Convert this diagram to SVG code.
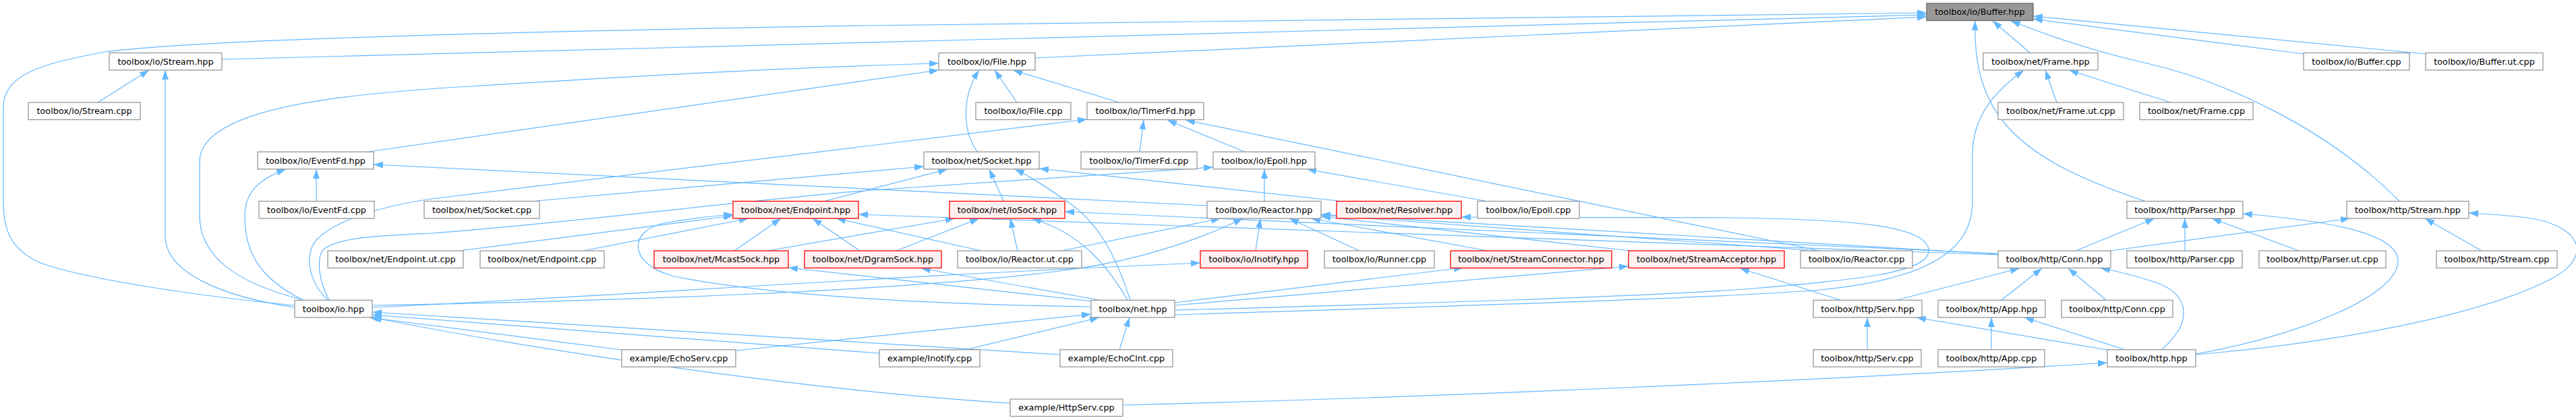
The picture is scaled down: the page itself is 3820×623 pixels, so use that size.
<svg xmlns="http://www.w3.org/2000/svg" width="3820" height="623" viewBox="0 0 3820 623">
<defs>
<marker id="a" markerWidth="14" markerHeight="10" refX="14" refY="5" orient="auto" markerUnits="userSpaceOnUse"><path d="M0,0L14,5L0,10z" fill="#63b8ff"/></marker>
</defs>
<style>
.n rect{fill:#fff;stroke:#999;stroke-width:1.3}
.r rect{fill:#fff0f0;stroke:#f00;stroke-width:1.3}
.g rect{fill:#999;stroke:#666;stroke-width:1.3}
text{font-family:"DejaVu Sans",sans-serif;font-size:12.8px;text-anchor:middle;fill:#000}
#edges path{fill:none;stroke:#63b8ff;stroke-width:1.2;marker-end:url(#a)}
</style>
<rect width="3820" height="623" fill="#fff"/>
<g id="edges">
<path d="M329,88 L2857,22"/>
<path d="M1535,86 L2857,25"/>
<path d="M437,453 C300,440 130,415 60,390 C15,370 5,340 5,300 L5,160 C5,110 60,95 155,77 C300,58 800,46 1280,38 L2857,19"/>
<path d="M3011,79 L2955,31"/>
<path d="M3416,80 L3015,28"/>
<path d="M3597,80 L3015,24"/>
<path d="M3180,298 C2990,235 2925,170 2929,31"/>
<path d="M3558,298 C3450,190 3300,120 3180,93 C3100,75 3030,50 2982,31"/>
<path d="M145,152 L221,104"/>
<path d="M437,456 C330,440 245,405 245,350 L245,104"/>
<path d="M450,445 C350,420 296,380 296,320 L296,240 C296,165 480,140 700,128 C950,112 1200,99 1392,94"/>
<path d="M547,225 L1392,104"/>
<path d="M1449,225 C1425,190 1428,140 1452,104"/>
<path d="M1508,152 L1475,104"/>
<path d="M1660,152 L1502,104"/>
<path d="M3050,152 L3033,104"/>
<path d="M3219,152 L3068,104"/>
<path d="M1742,467 C2100,455 2500,445 2700,430 C2880,412 2925,360 2925,300 L2925,230 C2925,170 2960,135 3001,104"/>
<path d="M486,445 C455,415 452,375 470,355 C500,325 570,305 640,295 L1612,177"/>
<path d="M1690,225 L1696,178"/>
<path d="M1845,225 L1731,178"/>
<path d="M2699,372 L1758,178"/>
<path d="M469,298 L469,251"/>
<path d="M449,445 C380,410 363,370 363,320 C363,285 385,265 424,251"/>
<path d="M1790,305 L554,244"/>
<path d="M795,298 L1370,247"/>
<path d="M1224,298 L1405,251"/>
<path d="M1488,298 L1467,251"/>
<path d="M1676,445 C1655,380 1630,330 1580,297 C1555,280 1530,263 1505,251"/>
<path d="M1985,298 L1541,250"/>
<path d="M488,445 C472,415 470,385 478,372 C495,352 560,350 640,346 C800,335 1100,298 1280,283 L1799,248"/>
<path d="M1875,298 L1875,251"/>
<path d="M2202,298 L1938,251"/>
<path d="M681,372 L1087,320"/>
<path d="M865,372 L1110,324"/>
<path d="M1089,372 L1158,324"/>
<path d="M1275,372 L1205,324"/>
<path d="M1618,455 C1400,452 1150,440 1000,410 C930,392 930,340 990,330 C1030,323 1060,320 1087,318"/>
<path d="M1455,372 L1240,324"/>
<path d="M2963,378 L1273,318"/>
<path d="M2963,376 L1579,314"/>
<path d="M2963,377 L1959,318"/>
<path d="M3078,372 L3195,324"/>
<path d="M3129,372 L3485,324"/>
<path d="M1138,372 L1416,324"/>
<path d="M1329,372 L1452,324"/>
<path d="M1509,372 L1498,324"/>
<path d="M1672,445 C1640,390 1600,345 1530,324"/>
<path d="M1574,372 L1810,324"/>
<path d="M552,453 C900,447 1350,432 1586,400 C1700,385 1790,350 1843,324"/>
<path d="M552,456 C900,440 1300,410 1780,390"/>
<path d="M1862,372 L1869,324"/>
<path d="M2016,372 L1912,324"/>
<path d="M2206,372 L1944,324"/>
<path d="M2418,372 L1959,321"/>
<path d="M2695,372 L1959,319"/>
<path d="M1742,460 C2100,450 2450,440 2600,428 C2750,415 2860,405 2860,372 C2860,335 2750,325 2560,323 L2167,322"/>
<path d="M1620,447 L1169,397"/>
<path d="M1630,445 L1366,398"/>
<path d="M1742,449 L2170,397"/>
<path d="M1742,453 L2415,395"/>
<path d="M1091,520 L1618,466"/>
<path d="M1431,519 L1630,471"/>
<path d="M1660,519 L1675,471"/>
<path d="M922,519 L548,471"/>
<path d="M1572,526 L552,463"/>
<path d="M1304,524 L552,467"/>
<path d="M1498,598 C1200,580 800,520 552,471"/>
<path d="M1665,601 C2100,590 2700,565 3125,538"/>
<path d="M2769,519 L2769,471"/>
<path d="M2953,519 L2953,471"/>
<path d="M3125,519 L2842,471"/>
<path d="M3152,519 L3002,471"/>
<path d="M2813,445 L2995,398"/>
<path d="M2968,445 L3028,398"/>
<path d="M3123,445 L3067,398"/>
<path d="M3205,519 C3250,480 3250,440 3200,420 C3170,410 3140,402 3115,398"/>
<path d="M2729,445 L2580,398"/>
<path d="M3240,372 L3240,324"/>
<path d="M3409,372 L3280,324"/>
<path d="M3256,525 C3400,500 3560,440 3556,385 C3552,340 3420,325 3326,317"/>
<path d="M3680,372 L3596,324"/>
<path d="M3256,526 C3500,505 3700,460 3790,410 C3840,380 3830,340 3760,325 C3730,320 3700,318 3661,316"/>
</g>
<g id="n_buffer_hpp" class="g"><rect x="2857" y="5" width="158" height="25.5"/><text x="2936" y="22.3">toolbox/io/Buffer.hpp</text></g>
<g id="n_io_stream_hpp" class="n"><rect x="162" y="78.5" width="167" height="25.5"/><text x="245.5" y="95.8">toolbox/io/Stream.hpp</text></g>
<g id="n_file_hpp" class="n"><rect x="1392" y="78.5" width="143" height="25.5"/><text x="1463.5" y="95.8">toolbox/io/File.hpp</text></g>
<g id="n_frame_hpp" class="n"><rect x="2941" y="78.5" width="170" height="25.5"/><text x="3026" y="95.8">toolbox/net/Frame.hpp</text></g>
<g id="n_buffer_cpp" class="n"><rect x="3416" y="78.5" width="157" height="25.5"/><text x="3494.5" y="95.8">toolbox/io/Buffer.cpp</text></g>
<g id="n_buffer_ut_cpp" class="n"><rect x="3597" y="78.5" width="174" height="25.5"/><text x="3684" y="95.8">toolbox/io/Buffer.ut.cpp</text></g>
<g id="n_io_stream_cpp" class="n"><rect x="42" y="152" width="166" height="25.5"/><text x="125" y="169.3">toolbox/io/Stream.cpp</text></g>
<g id="n_file_cpp" class="n"><rect x="1447" y="152" width="141" height="25.5"/><text x="1517.5" y="169.3">toolbox/io/File.cpp</text></g>
<g id="n_timerfd_hpp" class="n"><rect x="1612" y="152" width="173" height="25.5"/><text x="1698.5" y="169.3">toolbox/io/TimerFd.hpp</text></g>
<g id="n_frame_ut_cpp" class="n"><rect x="2963" y="152" width="186" height="25.5"/><text x="3056" y="169.3">toolbox/net/Frame.ut.cpp</text></g>
<g id="n_frame_cpp" class="n"><rect x="3173" y="152" width="168" height="25.5"/><text x="3257" y="169.3">toolbox/net/Frame.cpp</text></g>
<g id="n_eventfd_hpp" class="n"><rect x="382" y="225.3" width="172" height="25.5"/><text x="468" y="242.6">toolbox/io/EventFd.hpp</text></g>
<g id="n_socket_hpp" class="n"><rect x="1370" y="225.3" width="171" height="25.5"/><text x="1455.5" y="242.6">toolbox/net/Socket.hpp</text></g>
<g id="n_timerfd_cpp" class="n"><rect x="1603" y="225.3" width="172" height="25.5"/><text x="1689" y="242.6">toolbox/io/TimerFd.cpp</text></g>
<g id="n_epoll_hpp" class="n"><rect x="1799" y="225.3" width="151" height="25.5"/><text x="1874.5" y="242.6">toolbox/io/Epoll.hpp</text></g>
<g id="n_eventfd_cpp" class="n"><rect x="384" y="298.5" width="171" height="25.5"/><text x="469.5" y="315.8">toolbox/io/EventFd.cpp</text></g>
<g id="n_socket_cpp" class="n"><rect x="629" y="298.5" width="171" height="25.5"/><text x="714.5" y="315.8">toolbox/net/Socket.cpp</text></g>
<g id="n_endpoint_hpp" class="r"><rect x="1087" y="298.5" width="186" height="25.5"/><text x="1180" y="315.8">toolbox/net/Endpoint.hpp</text></g>
<g id="n_iosock_hpp" class="r"><rect x="1408" y="298.5" width="171" height="25.5"/><text x="1493.5" y="315.8">toolbox/net/IoSock.hpp</text></g>
<g id="n_reactor_hpp" class="n"><rect x="1790" y="298.5" width="169" height="25.5"/><text x="1874.5" y="315.8">toolbox/io/Reactor.hpp</text></g>
<g id="n_resolver_hpp" class="r"><rect x="1982" y="298.5" width="185" height="25.5"/><text x="2074.5" y="315.8">toolbox/net/Resolver.hpp</text></g>
<g id="n_epoll_cpp" class="n"><rect x="2191" y="298.5" width="151" height="25.5"/><text x="2266.5" y="315.8">toolbox/io/Epoll.cpp</text></g>
<g id="n_parser_hpp" class="n"><rect x="3154" y="298.5" width="172" height="25.5"/><text x="3240" y="315.8">toolbox/http/Parser.hpp</text></g>
<g id="n_http_stream_hpp" class="n"><rect x="3480" y="298.5" width="181" height="25.5"/><text x="3570.5" y="315.8">toolbox/http/Stream.hpp</text></g>
<g id="n_endpoint_ut_cpp" class="n"><rect x="486" y="372" width="201" height="25.5"/><text x="586.5" y="389.3">toolbox/net/Endpoint.ut.cpp</text></g>
<g id="n_endpoint_cpp" class="n"><rect x="712" y="372" width="184" height="25.5"/><text x="804" y="389.3">toolbox/net/Endpoint.cpp</text></g>
<g id="n_mcastsock_hpp" class="r"><rect x="970" y="372" width="199" height="25.5"/><text x="1069.5" y="389.3">toolbox/net/McastSock.hpp</text></g>
<g id="n_dgramsock_hpp" class="r"><rect x="1193" y="372" width="203" height="25.5"/><text x="1294.5" y="389.3">toolbox/net/DgramSock.hpp</text></g>
<g id="n_reactor_ut_cpp" class="n"><rect x="1420" y="372" width="184" height="25.5"/><text x="1512" y="389.3">toolbox/io/Reactor.ut.cpp</text></g>
<g id="n_inotify_hpp" class="r"><rect x="1780" y="372" width="159" height="25.5"/><text x="1859.5" y="389.3">toolbox/io/Inotify.hpp</text></g>
<g id="n_runner_cpp" class="n"><rect x="1964" y="372" width="163" height="25.5"/><text x="2045.5" y="389.3">toolbox/io/Runner.cpp</text></g>
<g id="n_streamconnector_hpp" class="r"><rect x="2151" y="372" width="239" height="25.5"/><text x="2270.5" y="389.3">toolbox/net/StreamConnector.hpp</text></g>
<g id="n_streamacceptor_hpp" class="r"><rect x="2415" y="372" width="231" height="25.5"/><text x="2530.5" y="389.3">toolbox/net/StreamAcceptor.hpp</text></g>
<g id="n_reactor_cpp" class="n"><rect x="2670" y="372" width="166" height="25.5"/><text x="2753" y="389.3">toolbox/io/Reactor.cpp</text></g>
<g id="n_conn_hpp" class="n"><rect x="2963" y="372" width="167" height="25.5"/><text x="3046.5" y="389.3">toolbox/http/Conn.hpp</text></g>
<g id="n_parser_cpp" class="n"><rect x="3154" y="372" width="171" height="25.5"/><text x="3239.5" y="389.3">toolbox/http/Parser.cpp</text></g>
<g id="n_parser_ut_cpp" class="n"><rect x="3350" y="372" width="188" height="25.5"/><text x="3444" y="389.3">toolbox/http/Parser.ut.cpp</text></g>
<g id="n_http_stream_cpp" class="n"><rect x="3613" y="372" width="179" height="25.5"/><text x="3702.5" y="389.3">toolbox/http/Stream.cpp</text></g>
<g id="n_io" class="n"><rect x="437" y="445.3" width="115" height="25.5"/><text x="494.5" y="462.6">toolbox/io.hpp</text></g>
<g id="n_net" class="n"><rect x="1618" y="445.3" width="124" height="25.5"/><text x="1680" y="462.6">toolbox/net.hpp</text></g>
<g id="n_serv_hpp" class="n"><rect x="2689" y="445.3" width="161" height="25.5"/><text x="2769.5" y="462.6">toolbox/http/Serv.hpp</text></g>
<g id="n_app_hpp" class="n"><rect x="2874" y="445.3" width="159" height="25.5"/><text x="2953.5" y="462.6">toolbox/http/App.hpp</text></g>
<g id="n_conn_cpp" class="n"><rect x="3057" y="445.3" width="165" height="25.5"/><text x="3139.5" y="462.6">toolbox/http/Conn.cpp</text></g>
<g id="n_echoserv_cpp" class="n"><rect x="922" y="518.7" width="169" height="25.5"/><text x="1006.5" y="536">example/EchoServ.cpp</text></g>
<g id="n_ex_inotify_cpp" class="n"><rect x="1304" y="518.7" width="149" height="25.5"/><text x="1378.5" y="536">example/Inotify.cpp</text></g>
<g id="n_echoclnt_cpp" class="n"><rect x="1572" y="518.7" width="167" height="25.5"/><text x="1655.5" y="536">example/EchoClnt.cpp</text></g>
<g id="n_serv_cpp" class="n"><rect x="2689" y="518.7" width="160" height="25.5"/><text x="2769" y="536">toolbox/http/Serv.cpp</text></g>
<g id="n_app_cpp" class="n"><rect x="2874" y="518.7" width="158" height="25.5"/><text x="2953" y="536">toolbox/http/App.cpp</text></g>
<g id="n_http" class="n"><rect x="3125" y="518.7" width="131" height="25.5"/><text x="3190.5" y="536">toolbox/http.hpp</text></g>
<g id="n_httpserv_cpp" class="n"><rect x="1498" y="592" width="167" height="25.5"/><text x="1581.5" y="609.3">example/HttpServ.cpp</text></g>
</svg>
